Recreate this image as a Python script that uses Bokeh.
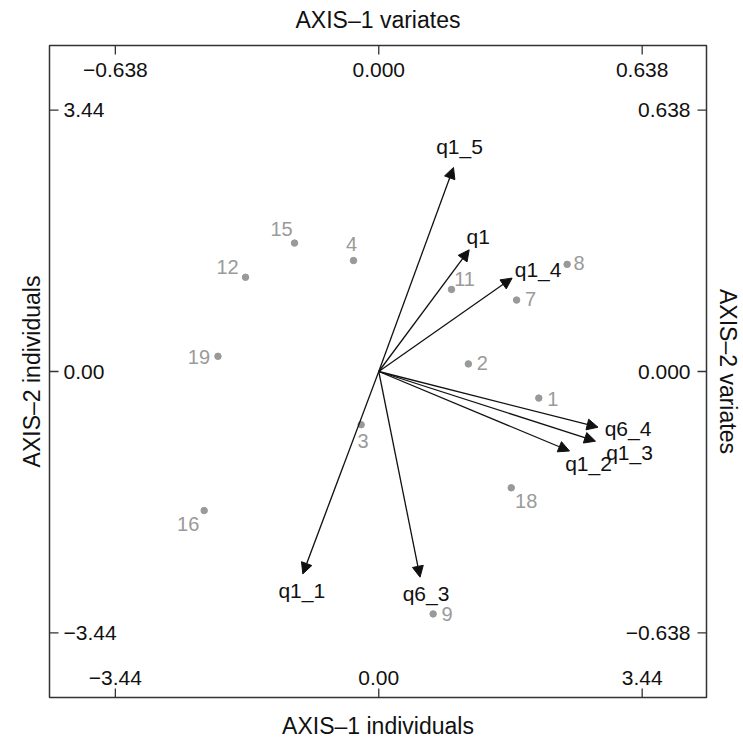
import math
from bokeh.plotting import figure
from bokeh.models import Range1d, ColumnDataSource, Arrow, NormalHead, LinearAxis, FixedTicker
from bokeh.core.properties import value
from bokeh.embed import file_html
from bokeh.resources import INLINE

# individuals (scores)
ind_names = ["1", "2", "3", "4", "7", "8", "9", "11", "12", "15", "16", "18", "19"]
ind_x = [2.09, 1.17, -0.23, -0.33, 1.80, 2.46, 0.71, 0.95, -1.74, -1.10, -2.28, 1.73, -2.10]
ind_y = [-0.35, 0.10, -0.70, 1.46, 0.94, 1.41, -3.19, 1.08, 1.24, 1.69, -1.83, -1.53, 0.20]

# variates (loadings)
var_names = ["q1", "q1_1", "q1_2", "q1_3", "q1_4", "q1_5", "q6_3", "q6_4"]
var_x = [0.219, -0.184, 0.462, 0.525, 0.323, 0.181, 0.100, 0.531]
var_y = [0.297, -0.494, -0.194, -0.170, 0.228, 0.498, -0.502, -0.136]

# axis ticks
ind_ticks = [-3.44, 0.0, 3.44]
ind_tick_labels = ["\u22123.44", "0.00", "3.44"]
var_ticks = [-0.638, 0.0, 0.638]
var_tick_labels = ["\u22120.638", "0.000", "0.638"]

FONT = "Liberation Sans"
k = ind_ticks[-1] / var_ticks[-1]  # variates -> individual scale

p = figure(width=743, height=741,
           x_range=Range1d(-4.30, 4.28), y_range=Range1d(-4.29, 4.29),
           output_backend="svg", toolbar_location=None,
           x_axis_location=None, y_axis_location=None,
           min_border_left=49, min_border_right=36, min_border_top=45, min_border_bottom=44)
p.grid.visible = False
p.outline_line_color = "#333333"
p.outline_line_width = 1.5
p.background_fill_color = "white"
p.border_fill_color = "white"

def title_axis(label, side, standoff):
    ax = LinearAxis(ticker=FixedTicker(ticks=[]), axis_label=label)
    ax.axis_line_color = None
    ax.major_tick_line_color = None
    ax.minor_tick_line_color = None
    ax.major_tick_out = 0
    ax.major_tick_in = 0
    ax.major_label_standoff = 0
    ax.major_label_text_font_size = "0px"
    ax.axis_label_text_font = FONT
    ax.axis_label_text_font_size = "23px"
    ax.axis_label_text_font_style = "normal"
    ax.axis_label_text_color = "#111111"
    ax.axis_label_standoff = standoff
    p.add_layout(ax, side)

title_axis("AXIS\u20131 variates", "above", 13)
title_axis("AXIS\u20131 individuals", "below", 15)
title_axis("AXIS\u20132 individuals", "left", 5)
title_axis("AXIS\u20132 variates", "right", 8)

xs, xe = p.x_range.start, p.x_range.end
ys, ye = p.y_range.start, p.y_range.end
tick_len = 9
tick_col = "#333333"
TICK_FS = "21px"

# top: variates x
top_x = [t * k for t in var_ticks]
p.ray(x=top_x, y=[ye] * 3, length=tick_len, length_units="screen", angle=-math.pi / 2,
      line_color=tick_col, line_width=1.3)
p.text(x=top_x, y=[ye] * 3, text=var_tick_labels, text_align="center", text_baseline="middle",
       y_offset=24, text_font=value(FONT), text_font_size=TICK_FS, text_color="#111111")
# bottom: individuals x
p.ray(x=ind_ticks, y=[ys] * 3, length=tick_len, length_units="screen", angle=math.pi / 2,
      line_color=tick_col, line_width=1.3)
p.text(x=ind_ticks, y=[ys] * 3, text=ind_tick_labels, text_align="center", text_baseline="middle",
       y_offset=-20, text_font=value(FONT), text_font_size=TICK_FS, text_color="#111111")
# left: individuals y
p.ray(x=[xs] * 3, y=ind_ticks, length=tick_len, length_units="screen", angle=0,
      line_color=tick_col, line_width=1.3)
p.text(x=[xs] * 3, y=ind_ticks, text=ind_tick_labels, text_align="left", text_baseline="middle",
       x_offset=14, text_font=value(FONT), text_font_size=TICK_FS, text_color="#111111")
# right: variates y
right_y = [t * k for t in var_ticks]
p.ray(x=[xe] * 3, y=right_y, length=tick_len, length_units="screen", angle=math.pi,
      line_color=tick_col, line_width=1.3)
p.text(x=[xe] * 3, y=right_y, text=var_tick_labels, text_align="right", text_baseline="middle",
       x_offset=-16, text_font=value(FONT), text_font_size=TICK_FS, text_color="#111111")

# individuals
ind_dx = [14, 14, 2, -2, 14, 12, 14, 13, -18, -13, -16, 15, -19]
ind_dy = [1, -1, 16, -17, -1, -1, 0, -10, -10, -14, 13, 13, 1]
isrc = ColumnDataSource(dict(x=ind_x, y=ind_y, name=ind_names, dx=ind_dx, dy=ind_dy))
p.scatter("x", "y", source=isrc, size=6.5, fill_color="#999999", line_color="#999999")
p.text("x", "y", text="name", source=isrc, x_offset="dx", y_offset="dy",
       text_align="center", text_baseline="middle", text_font=value(FONT),
       text_font_size="20px", text_color="#9a9a9a")

# variates arrows
vx = [v * k for v in var_x]
vy = [v * k for v in var_y]
var_dx = [9, -1, 19, 34, 26, 6, 6, 30]
var_dy = [-13, 17, 13, 11, -9, -21, 16, 1]
vsrc = ColumnDataSource(dict(x0=[0] * len(vx), y0=[0] * len(vy), x=vx, y=vy, name=var_names,
                             dx=var_dx, dy=var_dy))
p.add_layout(Arrow(end=NormalHead(size=11, fill_color="#111111", line_color="#111111", line_width=1),
                   x_start="x0", y_start="y0", x_end="x", y_end="y", source=vsrc,
                   line_color="#111111", line_width=1.3))
p.text("x", "y", text="name", source=vsrc, x_offset="dx", y_offset="dy",
       text_align="center", text_baseline="middle", text_font=value(FONT),
       text_font_size="21px", text_color="#111111")

open("out.html", "w").write(file_html(p, INLINE))
